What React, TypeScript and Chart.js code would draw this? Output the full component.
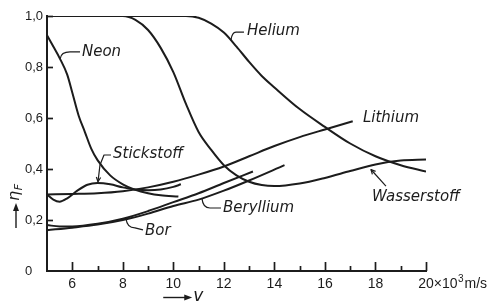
import React, { useEffect, useRef } from 'react';
import { Chart, registerables } from 'chart.js';

Chart.register(...registerables);

const INK = '#1c1c1c';

// ---- data (v in 10^3 m/s, eta_F) ----
const heliumV = [5, 10.5, 11, 11.5, 12, 12.5, 13, 13.5, 14, 15, 16, 17, 18, 19, 20];
const heliumEta = [1.0, 1.0, 0.993, 0.97, 0.935, 0.88, 0.82, 0.765, 0.72, 0.635, 0.565, 0.5, 0.45, 0.415, 0.39];

const wasserV = [5, 8, 8.5, 9, 9.5, 10, 10.5, 11, 11.5, 12, 12.5, 13, 13.5, 14, 15, 16, 17, 18, 19, 20];
const wasserEta = [1.0, 1.0, 0.985, 0.945, 0.875, 0.78, 0.655, 0.545, 0.475, 0.415, 0.375, 0.35, 0.337, 0.333, 0.343, 0.365, 0.392, 0.418, 0.433, 0.437];

const neonV = [5, 5.25, 5.5, 5.8, 6.0, 6.25, 6.5, 6.75, 7.0, 7.5, 8.0, 8.5, 9.0, 9.5, 10.2];
const neonEta = [0.925, 0.88, 0.835, 0.77, 0.7, 0.61, 0.545, 0.48, 0.435, 0.375, 0.34, 0.318, 0.305, 0.297, 0.292];

const stickV = [5, 5.25, 5.5, 5.8, 6.2, 6.6, 7.0, 7.5, 8.0, 8.5, 9.0, 9.5, 10.0, 10.3];
const stickEta = [0.3, 0.28, 0.272, 0.285, 0.315, 0.338, 0.345, 0.34, 0.328, 0.32, 0.317, 0.32, 0.33, 0.34];

const lithiumV = [5, 6, 7, 8, 9, 10, 11, 12, 13, 14, 15, 16, 17.1];
const lithiumEta = [0.3, 0.302, 0.305, 0.313, 0.328, 0.35, 0.378, 0.41, 0.45, 0.49, 0.525, 0.555, 0.587];

const borV = [5, 5.5, 6, 7, 8, 9, 10, 11, 12, 13.15];
const borEta = [0.18, 0.175, 0.175, 0.185, 0.205, 0.235, 0.27, 0.305, 0.345, 0.39];

const berylV = [5, 6, 7, 8, 9, 10, 11, 12, 13, 14.4];
const berylEta = [0.16, 0.17, 0.182, 0.2, 0.225, 0.255, 0.28, 0.315, 0.355, 0.415];

// ---- axes ----
const X_MIN = 5;
const X_MAX = 20;
const Y_MIN = 0;
const Y_MAX = 1;
const xMajorLabels = [6, 8, 10, 12, 14, 16, 18, 20];
const yTickValues = [0, 0.2, 0.4, 0.6, 0.8, 1.0];
const xUnitSuffix = '×10';
const xUnitExp = '3';
const xUnitTail = 'm/s';

// ---- curve labels (anchor: left edge of text, vertical middle; data units) ----
const labelNames = ['Helium', 'Neon', 'Stickstoff', 'Lithium', 'Wasserstoff', 'Beryllium', 'Bor'];
const labelV = [12.915, 6.385, 7.612, 17.505, 17.861, 11.965, 8.878];
const labelEta = [0.941, 0.859, 0.459, 0.6, 0.29, 0.247, 0.157];

// leader lines (data units), arrow flag
const leaderV = [
  [12.796, 12.479, 12.28],
  [6.306, 5.91, 5.52],
  [7.533, 7.256, 7.097, 7.018],
  [],
  [18.415, 17.822],
  [11.886, 11.45, 11.134],
  [8.799, 8.482, 8.126],
];
const leaderEta = [
  [0.937, 0.937, 0.905],
  [0.859, 0.859, 0.832],
  [0.455, 0.455, 0.416, 0.35],
  [],
  [0.333, 0.398],
  [0.247, 0.247, 0.284],
  [0.161, 0.169, 0.207],
];
const leaderArrow = [false, false, true, false, true, false, false];

const pairs = (xs: number[], ys: number[]) => xs.map((v, i) => ({ x: v, y: ys[i] }));

const seriesDefs = [
  { label: 'Helium', v: heliumV, eta: heliumEta },
  { label: 'Wasserstoff', v: wasserV, eta: wasserEta },
  { label: 'Neon', v: neonV, eta: neonEta },
  { label: 'Stickstoff', v: stickV, eta: stickEta },
  { label: 'Lithium', v: lithiumV, eta: lithiumEta },
  { label: 'Bor', v: borV, eta: borEta },
  { label: 'Beryllium', v: berylV, eta: berylEta },
];

const TICK_FONT = '"Liberation Sans", Arial, sans-serif';

const decorPlugin = {
  id: 'decor',
  afterDraw(chart: any) {
    const { ctx, chartArea } = chart;
    const xs = chart.scales.x;
    const ys = chart.scales.y;
    const X = (v: number) => xs.getPixelForValue(v);
    const Y = (v: number) => ys.getPixelForValue(v);
    ctx.save();
    ctx.strokeStyle = INK;
    ctx.fillStyle = INK;
    ctx.lineCap = 'butt';

    // inward x ticks
    ctx.lineWidth = 1.7;
    for (let v = X_MIN + 1; v <= X_MAX; v++) {
      const px = Math.round(X(v)) + 0.5;
      const len = v % 2 === 0 ? 9 : 5;
      ctx.beginPath();
      ctx.moveTo(px, chartArea.bottom);
      ctx.lineTo(px, chartArea.bottom - len);
      ctx.stroke();
    }
    // inward y ticks
    for (const t of yTickValues) {
      if (t <= Y_MIN) continue;
      const py = Math.round(Y(t)) + 0.5;
      ctx.beginPath();
      ctx.moveTo(chartArea.left, py);
      ctx.lineTo(chartArea.left + 6, py);
      ctx.stroke();
    }

    // x unit suffix after "20"
    ctx.font = '13px ' + TICK_FONT;
    ctx.textBaseline = 'middle';
    ctx.textAlign = 'left';
    const lastLbl = String(xMajorLabels[xMajorLabels.length - 1]);
    const w20 = ctx.measureText(lastLbl).width;
    let sx = X(X_MAX) + w20 / 2 + 0.5;
    const sy = chartArea.bottom + 5 + 8.5;
    ctx.font = '14px ' + TICK_FONT;
    ctx.fillText(xUnitSuffix, sx, sy);
    sx += ctx.measureText(xUnitSuffix).width;
    ctx.font = '10px ' + TICK_FONT;
    ctx.fillText(xUnitExp, sx + 0.5, sy - 5);
    sx += ctx.measureText(xUnitExp).width + 1.5;
    ctx.font = '14px ' + TICK_FONT;
    ctx.fillText(xUnitTail, sx, sy);

    // x title: arrow + v
    ctx.lineWidth = 1.4;
    const ax0 = X(9.6), ax1 = X(10.55), ay = 297.5;
    ctx.beginPath();
    ctx.moveTo(ax0, ay);
    ctx.lineTo(ax1, ay);
    ctx.stroke();
    ctx.beginPath();
    ctx.moveTo(ax1 + 5, ay);
    ctx.lineTo(ax1 - 3, ay - 3);
    ctx.lineTo(ax1 - 3, ay + 3);
    ctx.closePath();
    ctx.fill();
    ctx.font = 'italic 17px "DejaVu Sans", sans-serif';
    ctx.textAlign = 'left';
    ctx.fillText('v', ax1 + 6, ay - 1);

    // y title: arrow + eta_F, rotated
    ctx.save();
    ctx.translate(16, 0);
    ctx.beginPath();
    ctx.moveTo(0, 228);
    ctx.lineTo(0, 209);
    ctx.stroke();
    ctx.beginPath();
    ctx.moveTo(0, 203);
    ctx.lineTo(-3, 211);
    ctx.lineTo(3, 211);
    ctx.closePath();
    ctx.fill();
    ctx.translate(0, 201);
    ctx.rotate(-Math.PI / 2);
    ctx.font = 'italic 16px "DejaVu Sans", sans-serif';
    ctx.textAlign = 'left';
    ctx.textBaseline = 'middle';
    ctx.fillText('η', 0, -1);
    const we = ctx.measureText('η').width;
    ctx.font = 'italic 11px "DejaVu Sans", sans-serif';
    ctx.fillText('F', we + 0.5, 3);
    ctx.restore();

    // leaders
    ctx.lineWidth = 1.2;
    ctx.lineJoin = 'round';
    for (let i = 0; i < labelNames.length; i++) {
      const lv = leaderV[i];
      const le = leaderEta[i];
      if (lv.length < 2) continue;
      ctx.beginPath();
      ctx.moveTo(X(lv[0]), Y(le[0]));
      if (lv.length === 3) {
        ctx.lineTo(X(lv[1]), Y(le[1]));
        ctx.quadraticCurveTo(X(lv[2]) + 1, Y(le[1]), X(lv[2]), Y(le[2]));
      } else {
        for (let k = 1; k < lv.length; k++) ctx.lineTo(X(lv[k]), Y(le[k]));
      }
      ctx.stroke();
      if (leaderArrow[i]) {
        const n = lv.length;
        const x1 = X(lv[n - 1]), y1 = Y(le[n - 1]);
        const x0 = X(lv[n - 2]), y0 = Y(le[n - 2]);
        const ang = Math.atan2(y1 - y0, x1 - x0);
        const a = 5;
        ctx.beginPath();
        ctx.moveTo(x1 - a * Math.cos(ang - 0.45), y1 - a * Math.sin(ang - 0.45));
        ctx.lineTo(x1, y1);
        ctx.lineTo(x1 - a * Math.cos(ang + 0.45), y1 - a * Math.sin(ang + 0.45));
        ctx.stroke();
      }
    }

    // labels
    ctx.font = 'italic 15px "DejaVu Sans", sans-serif';
    ctx.textAlign = 'left';
    ctx.textBaseline = 'middle';
    for (let i = 0; i < labelNames.length; i++) {
      ctx.fillText(labelNames[i], X(labelV[i]), Y(labelEta[i]));
    }
    ctx.restore();
  },
};

export default function App() {
  const ref = useRef<HTMLCanvasElement>(null);
  useEffect(() => {
    if (!ref.current) return;
    const chart = new Chart(ref.current, {
      type: 'line',
      data: {
        datasets: seriesDefs.map((s) => ({
          label: s.label,
          data: pairs(s.v, s.eta),
          borderColor: INK,
          borderWidth: 2,
          pointRadius: 0,
          fill: false,
          cubicInterpolationMode: 'monotone' as const,
        })),
      },
      options: {
        responsive: false,
        devicePixelRatio: 1,
        animation: false,
        events: [],
        layout: { padding: { left: 25, right: 65, top: 16, bottom: 0 } },
        plugins: { legend: { display: false }, tooltip: { enabled: false }, title: { display: false } },
        scales: {
          x: {
            type: 'linear',
            min: X_MIN,
            max: X_MAX,
            afterFit: (s: any) => { s.height = 34; },
            grid: { display: false, drawTicks: false },
            border: { display: true, color: INK, width: 2 },
            ticks: {
              stepSize: 1,
              autoSkip: false,
              maxRotation: 0,
              padding: 5,
              color: INK,
              font: { family: TICK_FONT, size: 14 },
              callback: (val: any) => (xMajorLabels.includes(Number(val)) ? String(val) : ''),
            },
          },
          y: {
            type: 'linear',
            min: Y_MIN,
            max: Y_MAX,
            afterFit: (s: any) => { s.width = 22; },
            grid: { display: false, drawTicks: false },
            border: { display: true, color: INK, width: 2 },
            ticks: {
              stepSize: 0.2,
              crossAlign: 'far',
              padding: 5,
              color: INK,
              font: { family: TICK_FONT, size: 13 },
              callback: (val: any) => {
                const n = Number(val);
                if (!yTickValues.some((t) => Math.abs(t - n) < 1e-6)) return '';
                return n === 0 ? '0' : n.toFixed(1).replace('.', ',');
              },
            },
          },
        },
      },
      plugins: [decorPlugin],
    });
    return () => chart.destroy();
  }, []);
  return (
    <canvas
      ref={ref}
      width={491}
      height={305}
      style={{ position: 'absolute', left: 0, top: 0, width: 491, height: 305, background: '#fff' }}
    />
  );
}
